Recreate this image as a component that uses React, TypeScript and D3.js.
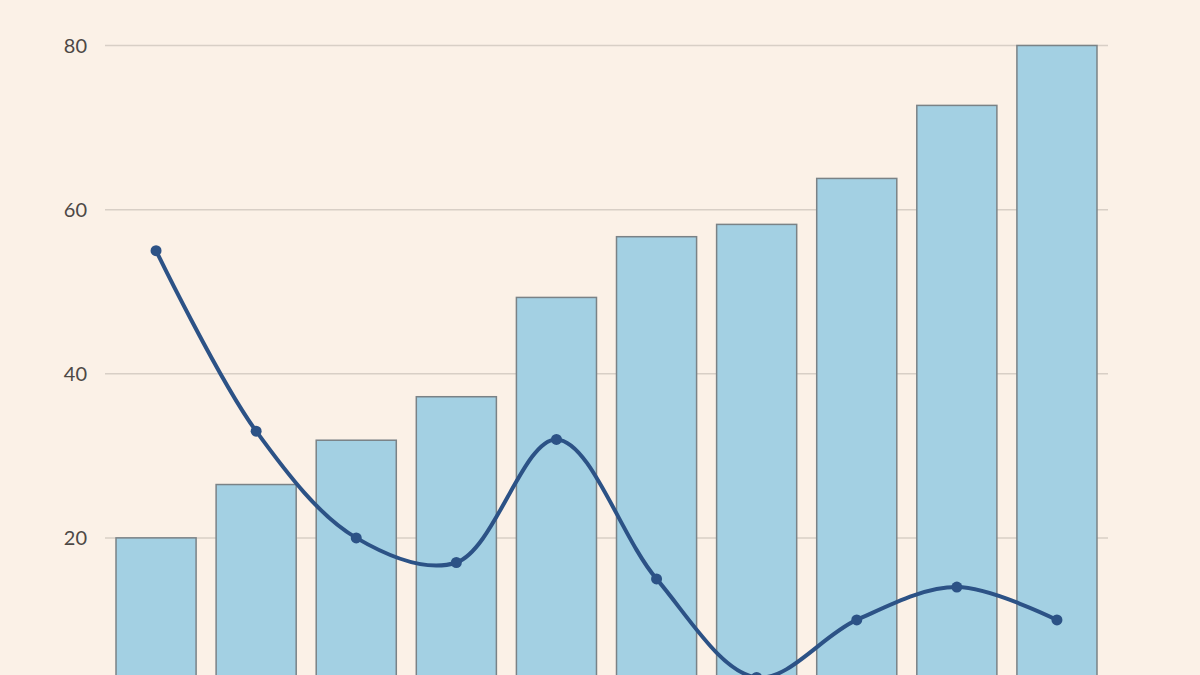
import React, { useEffect, useRef } from 'react';
import * as d3 from 'd3';

// categories are unlabeled in the crop, so just index them
const categories = ['1', '2', '3', '4', '5', '6', '7', '8', '9', '10'];
const barValues = [20, 26.5, 31.9, 37.2, 49.3, 56.7, 58.2, 63.8, 72.7, 80];
const lineValues = [55, 33, 20, 17, 32, 15, 3, 10, 14, 10];
const yTicks = [20, 40, 60, 80];

const App = () => {
    const ref = useRef<SVGSVGElement | null>(null);

    useEffect(() => {
        const W = 1200, H = 675;
        const svg = d3.select(ref.current);
        svg.selectAll("*").remove();

        svg.append("rect").attr("width", W).attr("height", H).attr("fill", "#fbf1e7");

        const x = d3.scaleBand()
            .domain(categories)
            .range([106, 1107])
            .paddingInner(0.2)
            .paddingOuter(0.1);

        const y = d3.scaleLinear().domain([0, 80]).range([702, 45.5]);

        // gridlines
        svg.append("g").selectAll("line")
            .data(yTicks)
            .join("line")
            .attr("x1", 105).attr("x2", 1108)
            .attr("y1", d => y(d)).attr("y2", d => y(d))
            .attr("stroke", "#d8cfc6")
            .attr("stroke-width", 1.5);

        svg.append("g").selectAll("text")
            .data(yTicks)
            .join("text")
            .attr("x", 87)
            .attr("y", d => y(d))
            .attr("dy", "0.36em")
            .attr("text-anchor", "end")
            .attr("fill", "#4d4845")
            .style("font-family", "Lato, 'Noto Sans', sans-serif")
            .style("font-size", "20px")
            .text(d => d);

        // bars
        svg.append("g").selectAll("rect")
            .data(barValues)
            .join("rect")
            .attr("x", (d, i) => x(categories[i])!)
            .attr("y", d => y(d))
            .attr("width", x.bandwidth())
            .attr("height", d => y(0) - y(d))
            .attr("fill", "#a3d0e3")
            .attr("stroke", "#7a8286")
            .attr("stroke-width", 1.5);

        // line
        const cx = (i: number) => x(categories[i])! + x.bandwidth() / 2;
        const line = d3.line<number>()
            .x((d, i) => cx(i))
            .y(d => y(d))
            .curve(d3.curveCatmullRom.alpha(0.5));

        svg.append("path")
            .datum(lineValues)
            .attr("d", line)
            .attr("fill", "none")
            .attr("stroke", "#2c5286")
            .attr("stroke-width", 4)
            .attr("stroke-linejoin", "round");

        svg.append("g").selectAll("circle")
            .data(lineValues)
            .join("circle")
            .attr("cx", (d, i) => cx(i))
            .attr("cy", d => y(d))
            .attr("r", 5.5)
            .attr("fill", "#2c5286");
    }, []);

    return <div style={{ position: 'fixed', left: 0, top: 0, width: 1200, height: 675, overflow: 'hidden' }}>
        <svg ref={ref} width={1200} height={675} style={{ display: 'block' }}></svg>
    </div>;
};

export default App;
